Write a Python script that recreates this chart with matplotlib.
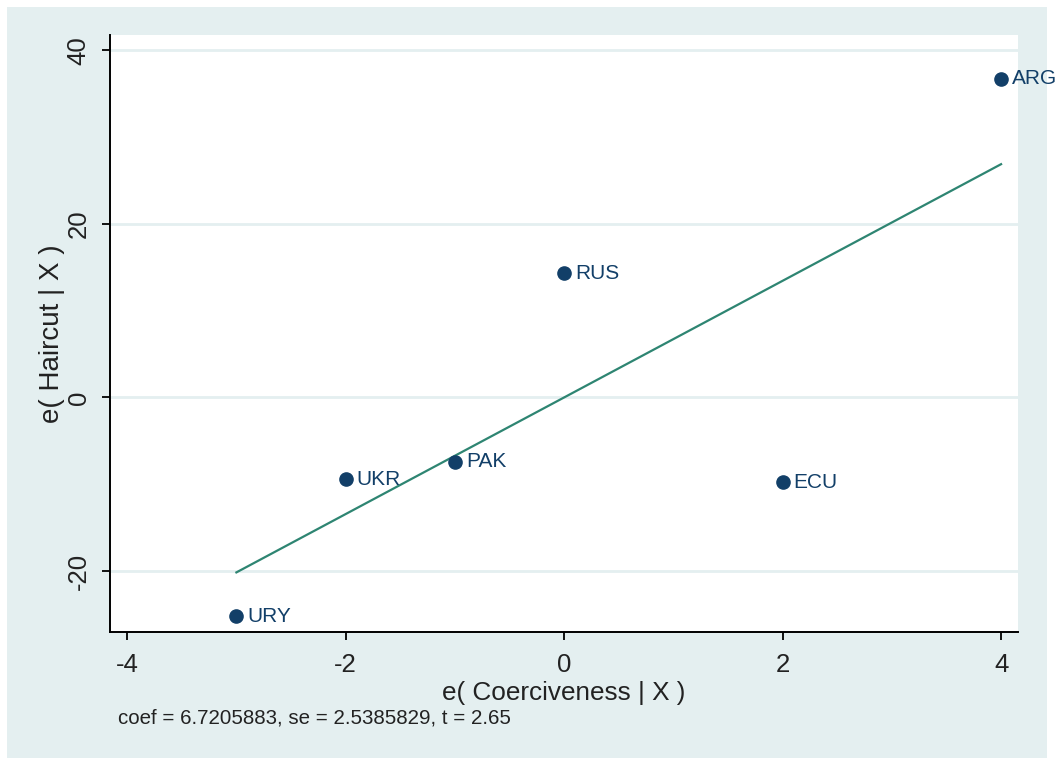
import numpy as np
import matplotlib
matplotlib.use("Agg")
import matplotlib.pyplot as plt
from matplotlib.patches import Rectangle

plt.rcParams['font.family'] = ['Liberation Sans', 'DejaVu Sans']
plt.rcParams['axes.unicode_minus'] = False

# added-variable plot data
countries = ['ARG', 'RUS', 'PAK', 'UKR', 'ECU', 'URY']
e_coerc = [4, 0, -1, -2, 2, -3]
e_haircut = [36.7, 14.3, -7.4, -9.4, -9.8, -25.2]
coef = 6.7205883
se = 2.5385829
tstat = 2.65

bg = '#E4EFF0'
navy = '#123F68'
green = '#2E8572'
txt = '#222222'

fig = plt.figure(figsize=(10.58, 7.58), dpi=100)
fig.patch.set_facecolor('white')
fig.patches.append(Rectangle((7 / 1058, 0), 1040 / 1058, 751 / 758,
                             transform=fig.transFigure, facecolor=bg,
                             edgecolor='none', zorder=-10))

ax = fig.add_axes([110 / 1058, 1 - 632 / 758, 908 / 1058, 597 / 758])
ax.set_facecolor('white')

# gridlines
for yv in [-20, 0, 20, 40]:
    ax.axhline(yv, color=bg, lw=2, zorder=0)

# fitted line
xs = np.array([min(e_coerc), max(e_coerc)])
ax.plot(xs, coef * xs, color=green, lw=1.6, zorder=2)

ax.plot(e_coerc, e_haircut, 'o', color=navy, markersize=9.5, zorder=3)
for c, x, y in zip(countries, e_coerc, e_haircut):
    ax.annotate(c, (x, y), xytext=(8, 0), textcoords='offset points',
                va='center', ha='left', fontsize=15, color=navy,
                clip_on=False, annotation_clip=False)

ax.set_xlim(-4.157, 4.155)
ax.set_ylim(-27.03, 41.77)
ax.set_xticks([-4, -2, 0, 2, 4])
ax.set_yticks([-20, 0, 20, 40])
ax.tick_params(axis='both', direction='out', length=6, width=1.3,
               labelsize=18.5, color='black', labelcolor=txt)
plt.setp(ax.get_yticklabels(), rotation=90, va='center')
ax.tick_params(axis='y', pad=8)
ax.tick_params(axis='x', pad=9)

for s in ['top', 'right']:
    ax.spines[s].set_visible(False)
for s in ['left', 'bottom']:
    ax.spines[s].set_linewidth(1.4)

ax.set_xlabel('e( Coerciveness | X )', fontsize=18.8, color=txt, labelpad=3)
ax.set_ylabel('e( Haircut | X )', fontsize=20, color=txt, labelpad=1)

fig.text(118 / 1058, 1 - 718 / 758,
         'coef = %s, se = %s, t = %.2f' % (coef, se, tstat),
         fontsize=14.8, color=txt, va='center', ha='left')

fig.savefig('out.png', dpi=100, facecolor=fig.get_facecolor())
